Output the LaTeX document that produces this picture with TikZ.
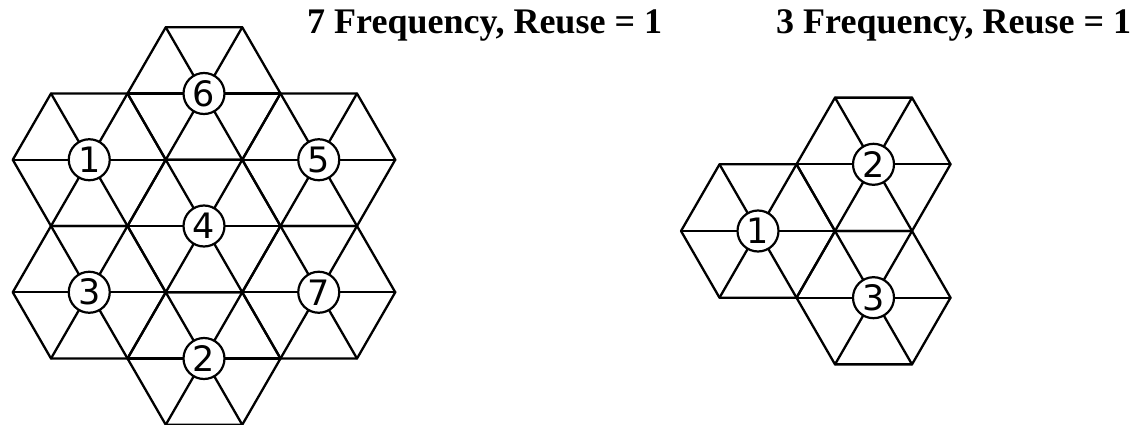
\documentclass[tikz,border=0pt]{standalone}
\usepackage{fontspec}
\setmainfont{Liberation Serif}
\newfontfamily\digitfont{DejaVu Sans}
\begin{document}
\begin{tikzpicture}[x=1pt,y=-1pt,
  edge/.style={line width=2.3pt,line join=round,line cap=round},
  cellnum/.style={circle,draw,line width=2.2pt,fill=white,minimum size=41pt,inner sep=0pt,
    font=\digitfont\fontsize{35}{35}\selectfont},
  title/.style={anchor=base west,inner sep=0pt,font=\fontsize{36}{40}\selectfont\bfseries}]
\useasboundingbox (0,0) rectangle (1139,425);
% hexagon with six triangles
\newcommand{\hexcell}[4]{% name, x, y, side
  \draw[edge] (#2,#3) +(0:#4) -- +(60:#4) -- +(120:#4) -- +(180:#4) -- +(240:#4) -- +(300:#4) -- cycle;
  \draw[edge] (#2,#3) +(0:#4) -- +(180:#4);
  \draw[edge] (#2,#3) +(60:#4) -- +(240:#4);
  \draw[edge] (#2,#3) +(120:#4) -- +(300:#4);
}
% left cluster: 7 cells
\def\s{76.5}
\foreach \n/\cx/\cy in {4/204/226, 6/204/93.5, 2/204/358.5, 1/89.25/159.75, 3/89.25/292.25, 5/318.75/159.75, 7/318.75/292.25}{
  \hexcell{L\n}{\cx}{\cy}{\s}
}
\foreach \n/\cx/\cy in {4/204/226, 6/204/93.5, 2/204/358.5, 1/89.25/159.75, 3/89.25/292.25, 5/318.75/159.75, 7/318.75/292.25}{
  \node[cellnum] (L\n) at (\cx,\cy) {\n};
}
% right cluster: 3 cells
\def\t{77}
\foreach \n/\cx/\cy in {1/758/231, 2/873.5/164.3, 3/873.5/297.7}{
  \hexcell{R\n}{\cx}{\cy}{\t}
}
\foreach \n/\cx/\cy in {1/758/231, 2/873.5/164.3, 3/873.5/297.7}{
  \node[cellnum] (R\n) at (\cx,\cy) {\n};
}
% titles
\node[title] (t7) at (307,33.5) {7 Frequency, Reuse = 1};
\node[title] (t3) at (776,33.5) {3 Frequency, Reuse = 1};
\end{tikzpicture}
\end{document}
